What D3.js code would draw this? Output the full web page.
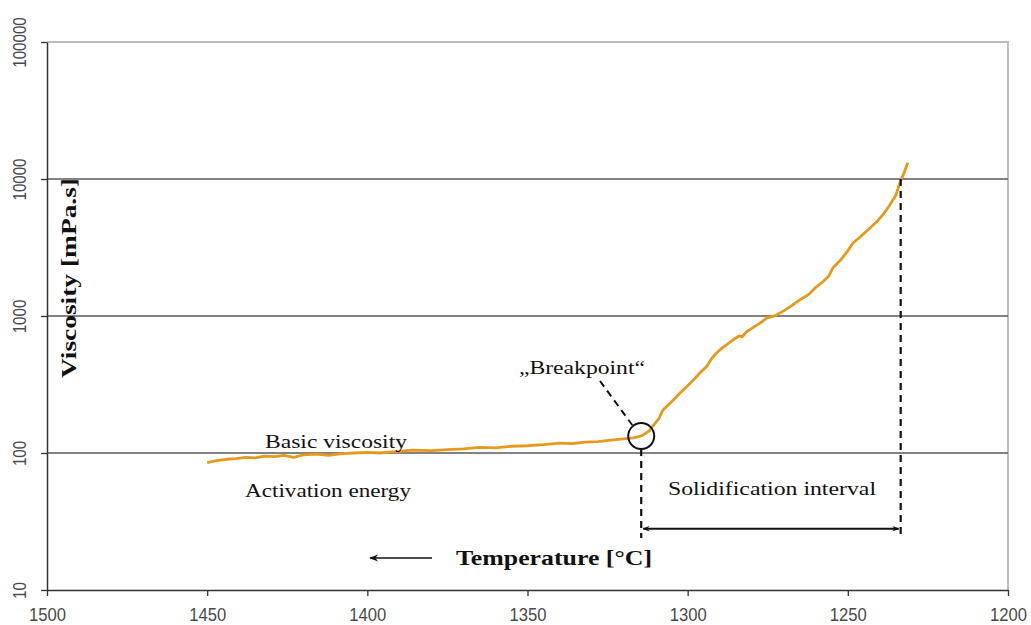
<!DOCTYPE html>
<html><head><meta charset="utf-8">
<script src="https://cdn.jsdelivr.net/npm/d3@7"></script>
<style>body{margin:0;background:#fff;} svg{display:block;}</style>
</head><body>
<svg id="chart" width="1031" height="625"></svg>
<script>
// ---- data ----
const temperature = [1450,1447,1444,1441,1438,1435,1432,1429,1426,1423,1420,1416,1412,1408,1404,1400,1396,1392,1386,1380,1375,1370,1365,1360,1355,1350,1345,1340,1336,1332,1328,1324,1320,1317,1315,
  1314,1312,1311,1309,1307.7,1306,1304,1302.4,1300,1298,1296.2,1294,1292.5,1291,1289,1287.5,1285.9,1284,1283,1281.6,1279,1277,1275.4,1274,1272.3,1270,1267.5,1265,1262,1260,1257.8,1256,1254.7,1252,1250,1248.4,1246,1243.5,1241,1239,1236.9,1235,1233.8,1232.5,1231.3];
const viscosity = [85,88,90,91,93,92,95,94,96,93,97,98,96,99,100,101,100,102,105,104,106,107,110,109,112,113,115,118,117,120,121,124,127,129,132,
  135,145,156,178,206,225,250,274,310,345,384,430,490,537,590,625,668,715,705,768,840,900,966,985,1016,1090,1190,1309,1450,1620,1778,1950,2239,2600,3000,3413,3800,4300,4877,5500,6457,7600,9354,11000,13150];
const xTicks = [1500,1450,1400,1350,1300,1250,1200];
const yTicks = [10,100,1000,10000,100000];
const gridValues = [100,1000,10000];
const breakpoint = {t:1314.5, v:133};
const solidusT = 1233.5;
const labels = {
  basic: "Basic viscosity",
  activation: "Activation energy",
  breakpoint: "\u201EBreakpoint\u201C",
  solid: "Solidification interval",
  xTitle: "Temperature  [\u00B0C]",
  yTitle: "Viscosity [mPa.s]"
};

// ---- scales ----
const svg = d3.select("#chart");
const x = d3.scaleLinear().domain([1500,1200]).range([47,1008]);
const y = d3.scaleLog().domain([10,100000]).range([590,42]);

// defs: arrow markers
const defs = svg.append("defs");
defs.append("marker").attr("id","ah").attr("viewBox","0 0 10 10").attr("refX",9).attr("refY",5)
  .attr("markerWidth",7).attr("markerHeight",7).attr("orient","auto-start-reverse").attr("markerUnits","userSpaceOnUse")
  .append("path").attr("d","M0,1 L10,5 L0,9 L3,5 Z").attr("fill","#111");
defs.append("marker").attr("id","ah2").attr("viewBox","0 0 10 10").attr("refX",9).attr("refY",5)
  .attr("markerWidth",9).attr("markerHeight",9).attr("orient","auto-start-reverse").attr("markerUnits","userSpaceOnUse")
  .append("path").attr("d","M0,1 L10,5 L0,9 L3,5 Z").attr("fill","#111");

// frame (top and right)
svg.append("path").attr("d",`M${x(1500)},${y(100000)} H${x(1200)} V${y(10)}`)
  .attr("fill","none").attr("stroke","#bdbdbd").attr("stroke-width",2);

// gridlines
svg.append("g").selectAll("line").data(gridValues).join("line")
  .attr("x1",x(1500)).attr("x2",x(1200)).attr("y1",d=>y(d)).attr("y2",d=>y(d))
  .attr("stroke","#5a5a5a").attr("stroke-width",1.5);

// x axis
const gx = svg.append("g").attr("transform",`translate(0,${y(10)})`)
  .call(d3.axisBottom(x).tickValues(xTicks).tickSize(6).tickSizeOuter(0).tickFormat(d3.format("d")));
gx.select(".domain").attr("stroke","#333").attr("stroke-width",1.5);
gx.selectAll(".tick line").attr("stroke","#333").attr("stroke-width",1.3);
gx.selectAll(".tick text")
  .style("font-family","Liberation Sans, Arial, sans-serif").style("font-size","18.5px")
  .attr("fill","#4a4a4a").attr("dy",null).attr("y",31)
  .attr("textLength",37).attr("lengthAdjust","spacingAndGlyphs");

// y axis
const gy = svg.append("g").attr("transform",`translate(${x(1500)},0)`)
  .call(d3.axisLeft(y).tickValues(yTicks).tickSize(6).tickSizeOuter(0).tickFormat(d3.format("d")));
gy.select(".domain").attr("stroke","#333").attr("stroke-width",1.5);
gy.selectAll(".tick line").attr("stroke","#333").attr("stroke-width",1.3);
gy.selectAll(".tick text")
  .style("font-family","Liberation Sans, Arial, sans-serif").style("font-size","18px")
  .attr("fill","#4a4a4a").attr("transform","rotate(-90)").attr("text-anchor","middle")
  .attr("x",0).attr("y",-21).attr("dy",null)
  .attr("textLength",d=>String(d).length*8.4).attr("lengthAdjust","spacingAndGlyphs");

// curve
const line = d3.line().x((d,i)=>x(temperature[i])).y((d,i)=>y(viscosity[i]));
svg.append("path").datum(viscosity).attr("d",line).attr("fill","none")
  .attr("stroke","#E69A1C").attr("stroke-width",2.8).attr("stroke-linejoin","round");

// breakpoint circle
const bx = x(breakpoint.t), by = y(breakpoint.v);
svg.append("circle").attr("cx",bx).attr("cy",by).attr("r",13)
  .attr("fill","none").attr("stroke","#111").attr("stroke-width",2);
// leader line
svg.append("line").attr("x1",600).attr("y1",381).attr("x2",bx-9).attr("y2",by-11)
  .attr("stroke","#111").attr("stroke-width",2).attr("stroke-dasharray","7,5");

// vertical dashed lines
svg.append("line").attr("x1",bx).attr("x2",bx).attr("y1",by+13).attr("y2",y(24))
  .attr("stroke","#111").attr("stroke-width",2.2).attr("stroke-dasharray","7,5");
svg.append("line").attr("x1",x(solidusT)).attr("x2",x(solidusT)).attr("y1",y(10000)).attr("y2",y(24))
  .attr("stroke","#111").attr("stroke-width",2.2).attr("stroke-dasharray","7,5");

// double arrow
svg.append("line").attr("x1",bx+2).attr("x2",x(solidusT)-2).attr("y1",y(28)).attr("y2",y(28))
  .attr("stroke","#111").attr("stroke-width",1.8)
  .attr("marker-start","url(#ah)").attr("marker-end","url(#ah)");

// temperature direction arrow
svg.append("line").attr("x1",432).attr("x2",370).attr("y1",558).attr("y2",558)
  .attr("stroke","#111").attr("stroke-width",1.5).attr("marker-end","url(#ah2)");

// text labels
const serif = "Liberation Serif, Times New Roman, serif";
function txt(s, px, py, size, len, weight){
  return svg.append("text").attr("x",px).attr("y",py).text(s)
    .attr("font-family",serif).attr("font-size",size).attr("fill","#111")
    .attr("font-weight",weight||"normal")
    .attr("textLength",len).attr("lengthAdjust","spacingAndGlyphs");
}
txt(labels.basic, 265, 448, 19, 142);
txt(labels.activation, 245, 497, 19, 166);
txt(labels.breakpoint, 519, 374, 19, 126);
txt(labels.solid, 668, 495, 19, 208);
txt(labels.xTitle, 456, 565, 20, 196, "bold");

svg.append("text").attr("transform","translate(76,278) rotate(-90)")
  .attr("text-anchor","middle").text(labels.yTitle)
  .attr("font-family",serif).attr("font-size",22).attr("font-weight","bold").attr("fill","#111")
  .attr("textLength",200).attr("lengthAdjust","spacingAndGlyphs");
</script>
</body></html>
